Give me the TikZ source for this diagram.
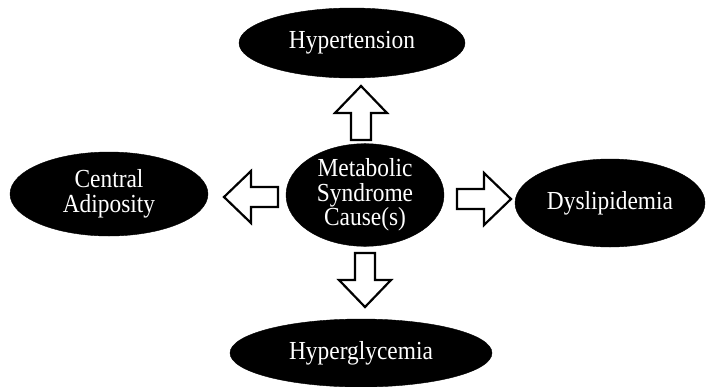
\documentclass[tikz,border=0pt]{standalone}
\usepackage{fontspec}
\setmainfont[FakeStretch=0.9]{Liberation Serif}
\usetikzlibrary{shapes.geometric}
\begin{document}
\begin{tikzpicture}[x=1pt,y=-1pt,
  blob/.style={ellipse,fill=black,draw=black,inner sep=0pt,text=white,
    align=center,font=\fontsize{26}{24.5}\selectfont},
  blockarrow/.pic={
    \draw[line width=2.2pt,fill=white,line join=miter]
      (-10,27) -- (10,27) -- (10,0) -- (26,0) -- (0,-27) -- (-26,0) -- (-10,0) -- cycle;
  }]
\useasboundingbox (0,0) rectangle (706,386);
\node[blob,minimum width=226,minimum height=70] (hyper) at (352,43) {Hypertension};
\node[blob,minimum width=158,minimum height=92] (cause) at (365,195) {Metabolic\\Syndrome\\Cause(s)};
\node[blob,minimum width=198,minimum height=84] (adip) at (109,194) {Central\\Adiposity};
\node[blob,minimum width=190,minimum height=88] (dys) at (610,203) {Dyslipidemia};
\node[blob,minimum width=262,minimum height=68] (glyc) at (361,353) {Hyperglycemia};
\pic at (361,113) {blockarrow};
\pic[rotate=-90] at (484,199) {blockarrow};
\pic[rotate=90] at (251,197) {blockarrow};
\pic[rotate=180] at (365,280) {blockarrow};
\end{tikzpicture}
\end{document}
